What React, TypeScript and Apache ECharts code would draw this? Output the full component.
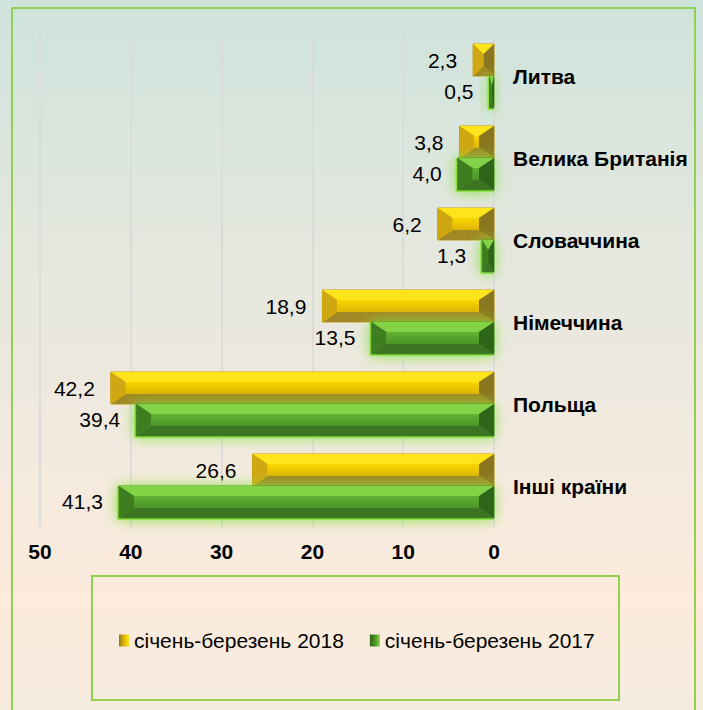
import React, { useEffect, useRef } from 'react';
import * as echarts from 'echarts';

const categories = ['Литва', 'Велика Британія', 'Словаччина', 'Німеччина', 'Польща', 'Інші країни'];
const values2018 = [2.3, 3.8, 6.2, 18.9, 42.2, 26.6];
const values2017 = [0.5, 4.0, 1.3, 13.5, 39.4, 41.3];
const seriesNames = ['січень-березень 2018', 'січень-березень 2017'];
const xMin = 0;
const xMax = 50;
const xInterval = 10;

const FONT = '"Liberation Sans", Arial, sans-serif';

type Pal = {
  top: string; faceA: string; faceB: string; bottom: string; left: string; right: string; stroke: string; glow: string | null;
};

const yellow: Pal = {
  top: '#ffe41c', faceA: '#fbd600', faceB: '#dcb404', bottom: '#a08824', left: '#cfa712', right: '#8a7620', stroke: '#c39c06', glow: null,
};
const green: Pal = {
  top: '#84d246', faceA: '#62b232', faceB: '#4c9428', bottom: '#3c7522', left: '#3f7e20', right: '#2e6619', stroke: '#4a9a22', glow: '#8fe04a',
};

function fmt(v: number) {
  return v.toFixed(1).replace('.', ',');
}

function makeRender(pal: Pal, slot: number) {
  return (params: any, api: any) => {
    const val = api.value(0) as number;
    const cat = api.value(1) as number;
    const p0 = api.coord([0, cat]);
    const p1 = api.coord([val, cat]);
    const band = api.size([0, 1])[1];
    const h = band * 0.39;
    const cy = p0[1];
    const y0 = slot === 0 ? cy - h : cy;
    const y1 = y0 + h;
    const xr = Math.max(p0[0], p1[0]);
    const xl = Math.min(p0[0], p1[0]);
    const w = xr - xl;
    const dx = Math.min(15, w / 2);
    const dy = Math.min(10, h / 2);
    const children: any[] = [];
    if (pal.glow) {
      children.push({
        type: 'rect',
        shape: { x: xl - 2, y: y0, width: w + 2, height: h + 2 },
        style: { fill: pal.glow, shadowBlur: 14, shadowColor: pal.glow },
      });
    }
    children.push({
      type: 'rect',
      shape: { x: xl, y: y0, width: w, height: h },
      style: { fill: pal.faceA, stroke: pal.stroke, lineWidth: 1 },
    });
    children.push({
      type: 'polygon',
      shape: { points: [[xl, y0], [xr, y0], [xr - dx, y0 + dy], [xl + dx, y0 + dy]] },
      style: { fill: pal.top },
    });
    children.push({
      type: 'polygon',
      shape: { points: [[xl, y1], [xr, y1], [xr - dx, y1 - dy], [xl + dx, y1 - dy]] },
      style: { fill: pal.bottom },
    });
    children.push({
      type: 'polygon',
      shape: { points: [[xl, y0], [xl + dx, y0 + dy], [xl + dx, y1 - dy], [xl, y1]] },
      style: { fill: pal.left },
    });
    children.push({
      type: 'polygon',
      shape: { points: [[xr, y0], [xr - dx, y0 + dy], [xr - dx, y1 - dy], [xr, y1]] },
      style: { fill: pal.right },
    });
    if (w - 2 * dx > 0) {
      children.push({
        type: 'rect',
        shape: { x: xl + dx, y: y0 + dy, width: w - 2 * dx, height: h - 2 * dy },
        style: {
          fill: new echarts.graphic.LinearGradient(0, 0, 0, 1, [
            { offset: 0, color: pal.faceA },
            { offset: 1, color: pal.faceB },
          ]),
        },
      });
    }
    children.push({
      type: 'text',
      style: {
        text: fmt(val),
        x: xl - 16,
        y: (y0 + y1) / 2,
        align: 'right',
        verticalAlign: 'middle',
        fontSize: 21,
        fontFamily: FONT,
        fill: '#000000',
      },
    });
    return { type: 'group', children };
  };
}

export default function App() {
  const ref = useRef<HTMLDivElement>(null);
  useEffect(() => {
    if (!ref.current) return;
    const chart = echarts.init(ref.current, null, { renderer: 'svg' });
    const d2018 = values2018.map((v, i) => [v, i]);
    const d2017 = values2017.map((v, i) => [v, i]);
    const legendYellow = new echarts.graphic.LinearGradient(0, 0, 1, 0, [
      { offset: 0, color: '#8a7620' },
      { offset: 0.5, color: '#e0b800' },
      { offset: 1, color: '#ffe41c' },
    ]);
    const legendGreen = new echarts.graphic.LinearGradient(0, 0, 1, 0, [
      { offset: 0, color: '#2e6619' },
      { offset: 0.5, color: '#4a9126' },
      { offset: 1, color: '#84d246' },
    ]);
    chart.setOption({
      animation: false,
      textStyle: { fontFamily: FONT },
      grid: { left: 40, right: 209, top: 35, bottom: 183, containLabel: false },
      graphic: [
        {
          type: 'rect',
          z: -1,
          silent: true,
          shape: { x: 12, y: 8, width: 683, height: 730 },
          style: { fill: 'none', stroke: '#92d050', lineWidth: 2 },
        },
        {
          type: 'rect',
          z: -1,
          silent: true,
          shape: { x: 92, y: 576, width: 527, height: 124 },
          style: { fill: 'none', stroke: '#92d050', lineWidth: 2 },
        },
      ],
      legend: {
        left: 114,
        top: 625,
        itemWidth: 10,
        itemHeight: 12,
        itemGap: 26,
        textStyle: { fontSize: 21, color: '#000000', fontFamily: FONT },
        data: [
          { name: seriesNames[0], icon: 'rect', itemStyle: { color: legendYellow } },
          { name: seriesNames[1], icon: 'rect', itemStyle: { color: legendGreen } },
        ],
      },
      xAxis: {
        type: 'value',
        min: xMin,
        max: xMax,
        interval: xInterval,
        inverse: true,
        axisLine: { show: false },
        axisTick: { show: false },
        splitLine: { show: true, lineStyle: { color: '#d9d9d9', width: 1.5 } },
        axisLabel: { fontSize: 21, fontWeight: 'bold', color: '#000000', margin: 14, fontFamily: FONT },
      },
      yAxis: {
        type: 'category',
        data: categories,
        inverse: true,
        position: 'right',
        axisLine: { show: false },
        axisTick: { show: false },
        axisLabel: { fontSize: 21, fontWeight: 'bold', color: '#000000', margin: 19, fontFamily: FONT },
      },
      series: [
        {
          name: seriesNames[0],
          type: 'custom',
          clip: false,
          itemStyle: { color: '#e0b800' },
          encode: { x: 0, y: 1 },
          data: d2018,
          renderItem: makeRender(yellow, 0),
        },
        {
          name: seriesNames[1],
          type: 'custom',
          clip: false,
          itemStyle: { color: '#4a9126' },
          encode: { x: 0, y: 1 },
          data: d2017,
          renderItem: makeRender(green, 1),
        },
      ],
    });
    return () => chart.dispose();
  }, []);
  return (
    <div
      ref={ref}
      style={{
        position: 'fixed',
        left: 0,
        top: 0,
        width: 703,
        height: 710,
        background: 'linear-gradient(to bottom, #cee3dc 0%, #e4e7de 35%, #f3eadf 65%, #fdebdc 85%, #f4ecdf 100%)',
      }}
    />
  );
}
